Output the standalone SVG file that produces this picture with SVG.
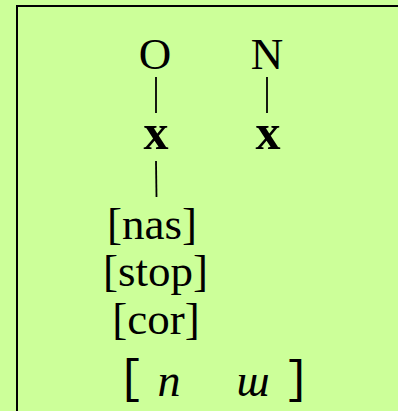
<svg xmlns="http://www.w3.org/2000/svg" width="398" height="411" viewBox="0 0 398 411">
<style>
.t{font-family:"Liberation Serif","Times New Roman",serif;fill:#000;text-anchor:middle}
.x{font-weight:bold;font-size:50px}
.f{font-size:45px}
.i{font-style:italic;font-size:46px}
.b{font-family:"Noto Sans CJK JP","Liberation Sans",sans-serif;font-size:46px;font-weight:500;text-anchor:middle}
.c{stroke:#000;stroke-width:1.8;fill:none}
</style>
<rect x="0" y="0" width="398" height="411" fill="#CCFF99"/>
<rect x="17" y="6" width="400" height="420" fill="none" stroke="#000" stroke-width="2"/>
<g id="connectors">
<line class="c" x1="156" y1="77" x2="156" y2="113"/>
<line class="c" x1="267" y1="77" x2="267" y2="113"/>
<line class="c" x1="156" y1="161" x2="156.5" y2="197"/>
</g>
<g id="O"><text class="t f" x="155" y="69">O</text></g>
<g id="N"><text class="t f" x="267" y="69">N</text></g>
<g id="x1"><text class="t x" x="156" y="149">x</text></g>
<g id="x2"><text class="t x" x="268" y="149">x</text></g>
<g id="features">
<text class="t f" x="152" y="239">[nas]</text>
<text class="t f" x="155.5" y="286">[stop]</text>
<text class="t f" x="156" y="334">[cor]</text>
</g>
<g id="transcription">
<text class="b" x="117" y="397">［</text>
<text class="t i" x="169" y="396">n</text>
<text class="t i" x="253" y="396">ɯ</text>
<text class="b" x="311" y="397">］</text>
</g>
</svg>
